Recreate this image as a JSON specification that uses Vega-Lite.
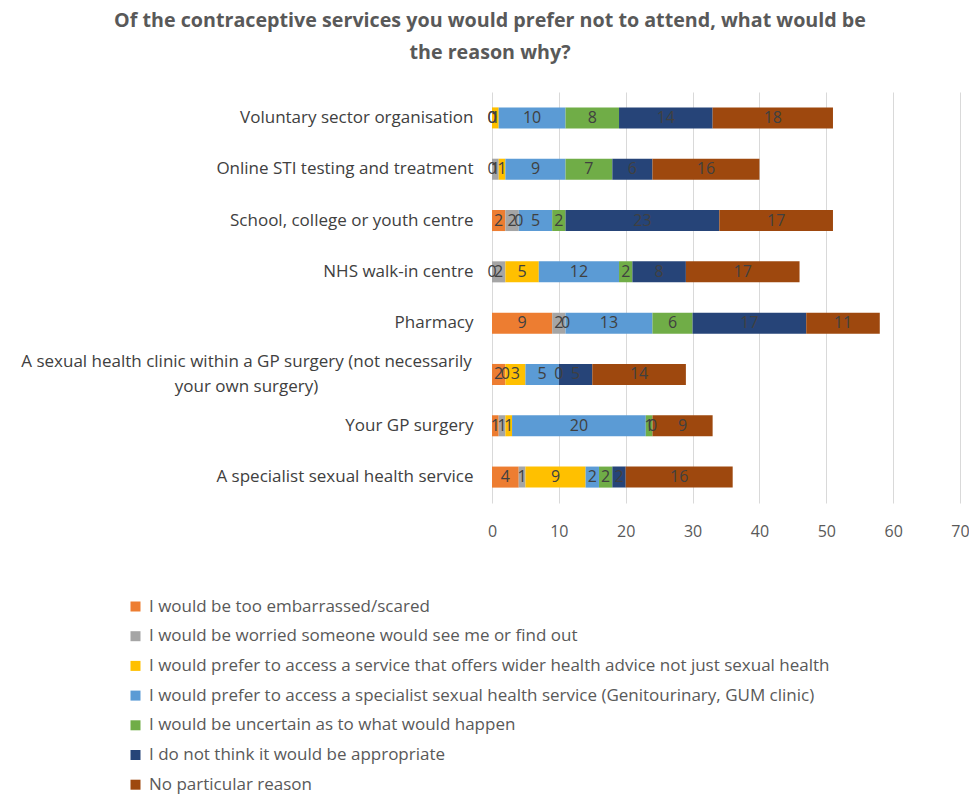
{
  "$schema": "https://vega.github.io/schema/vega-lite/v6.json",
  "autosize": "none",
  "width": 468,
  "height": 411,
  "padding": {"left": 492, "top": 92, "right": 9, "bottom": 291},
  "background": "white",
  "config": {
    "font": "Open Sans",
    "view": {"stroke": null},
    "axis": {"labelFont": "Open Sans", "labelColor": "#595959", "labelFontSize": 16}
  },
  "title": {
    "text": ["Of the contraceptive services you would prefer not to attend, what would be", "the reason why?"],
    "font": "Open Sans",
    "fontSize": 19.7,
    "fontWeight": "bold",
    "color": "#595959",
    "lineHeight": 32,
    "anchor": "middle",
    "dx": -236,
    "offset": 29
  },
  "data": {
    "values": [
      {"service": "Voluntary sector organisation", "reason": "I would be too embarrassed/scared", "k": 1, "n": 0},
      {"service": "Voluntary sector organisation", "reason": "I would be worried someone would see me or find out", "k": 2, "n": 0},
      {"service": "Voluntary sector organisation", "reason": "I would prefer to access a service that offers wider health advice not just sexual health", "k": 3, "n": 1},
      {"service": "Voluntary sector organisation", "reason": "I would prefer to access a specialist sexual health service (Genitourinary, GUM clinic)", "k": 4, "n": 10},
      {"service": "Voluntary sector organisation", "reason": "I would be uncertain as to what would happen", "k": 5, "n": 8},
      {"service": "Voluntary sector organisation", "reason": "I do not think it would be appropriate", "k": 6, "n": 14},
      {"service": "Voluntary sector organisation", "reason": "No particular reason", "k": 7, "n": 18},

      {"service": "Online STI testing and treatment", "reason": "I would be too embarrassed/scared", "k": 1, "n": 0},
      {"service": "Online STI testing and treatment", "reason": "I would be worried someone would see me or find out", "k": 2, "n": 1},
      {"service": "Online STI testing and treatment", "reason": "I would prefer to access a service that offers wider health advice not just sexual health", "k": 3, "n": 1},
      {"service": "Online STI testing and treatment", "reason": "I would prefer to access a specialist sexual health service (Genitourinary, GUM clinic)", "k": 4, "n": 9},
      {"service": "Online STI testing and treatment", "reason": "I would be uncertain as to what would happen", "k": 5, "n": 7},
      {"service": "Online STI testing and treatment", "reason": "I do not think it would be appropriate", "k": 6, "n": 6},
      {"service": "Online STI testing and treatment", "reason": "No particular reason", "k": 7, "n": 16},

      {"service": "School, college or youth centre", "reason": "I would be too embarrassed/scared", "k": 1, "n": 2},
      {"service": "School, college or youth centre", "reason": "I would be worried someone would see me or find out", "k": 2, "n": 2},
      {"service": "School, college or youth centre", "reason": "I would prefer to access a service that offers wider health advice not just sexual health", "k": 3, "n": 0},
      {"service": "School, college or youth centre", "reason": "I would prefer to access a specialist sexual health service (Genitourinary, GUM clinic)", "k": 4, "n": 5},
      {"service": "School, college or youth centre", "reason": "I would be uncertain as to what would happen", "k": 5, "n": 2},
      {"service": "School, college or youth centre", "reason": "I do not think it would be appropriate", "k": 6, "n": 23},
      {"service": "School, college or youth centre", "reason": "No particular reason", "k": 7, "n": 17},

      {"service": "NHS walk-in centre", "reason": "I would be too embarrassed/scared", "k": 1, "n": 0},
      {"service": "NHS walk-in centre", "reason": "I would be worried someone would see me or find out", "k": 2, "n": 2},
      {"service": "NHS walk-in centre", "reason": "I would prefer to access a service that offers wider health advice not just sexual health", "k": 3, "n": 5},
      {"service": "NHS walk-in centre", "reason": "I would prefer to access a specialist sexual health service (Genitourinary, GUM clinic)", "k": 4, "n": 12},
      {"service": "NHS walk-in centre", "reason": "I would be uncertain as to what would happen", "k": 5, "n": 2},
      {"service": "NHS walk-in centre", "reason": "I do not think it would be appropriate", "k": 6, "n": 8},
      {"service": "NHS walk-in centre", "reason": "No particular reason", "k": 7, "n": 17},

      {"service": "Pharmacy", "reason": "I would be too embarrassed/scared", "k": 1, "n": 9},
      {"service": "Pharmacy", "reason": "I would be worried someone would see me or find out", "k": 2, "n": 2},
      {"service": "Pharmacy", "reason": "I would prefer to access a service that offers wider health advice not just sexual health", "k": 3, "n": 0},
      {"service": "Pharmacy", "reason": "I would prefer to access a specialist sexual health service (Genitourinary, GUM clinic)", "k": 4, "n": 13},
      {"service": "Pharmacy", "reason": "I would be uncertain as to what would happen", "k": 5, "n": 6},
      {"service": "Pharmacy", "reason": "I do not think it would be appropriate", "k": 6, "n": 17},
      {"service": "Pharmacy", "reason": "No particular reason", "k": 7, "n": 11},

      {"service": "A sexual health clinic within a GP surgery (not necessarily your own surgery)", "reason": "I would be too embarrassed/scared", "k": 1, "n": 2},
      {"service": "A sexual health clinic within a GP surgery (not necessarily your own surgery)", "reason": "I would be worried someone would see me or find out", "k": 2, "n": 0},
      {"service": "A sexual health clinic within a GP surgery (not necessarily your own surgery)", "reason": "I would prefer to access a service that offers wider health advice not just sexual health", "k": 3, "n": 3},
      {"service": "A sexual health clinic within a GP surgery (not necessarily your own surgery)", "reason": "I would prefer to access a specialist sexual health service (Genitourinary, GUM clinic)", "k": 4, "n": 5},
      {"service": "A sexual health clinic within a GP surgery (not necessarily your own surgery)", "reason": "I would be uncertain as to what would happen", "k": 5, "n": 0},
      {"service": "A sexual health clinic within a GP surgery (not necessarily your own surgery)", "reason": "I do not think it would be appropriate", "k": 6, "n": 5},
      {"service": "A sexual health clinic within a GP surgery (not necessarily your own surgery)", "reason": "No particular reason", "k": 7, "n": 14},

      {"service": "Your GP surgery", "reason": "I would be too embarrassed/scared", "k": 1, "n": 1},
      {"service": "Your GP surgery", "reason": "I would be worried someone would see me or find out", "k": 2, "n": 1},
      {"service": "Your GP surgery", "reason": "I would prefer to access a service that offers wider health advice not just sexual health", "k": 3, "n": 1},
      {"service": "Your GP surgery", "reason": "I would prefer to access a specialist sexual health service (Genitourinary, GUM clinic)", "k": 4, "n": 20},
      {"service": "Your GP surgery", "reason": "I would be uncertain as to what would happen", "k": 5, "n": 1},
      {"service": "Your GP surgery", "reason": "I do not think it would be appropriate", "k": 6, "n": 0},
      {"service": "Your GP surgery", "reason": "No particular reason", "k": 7, "n": 9},

      {"service": "A specialist sexual health service", "reason": "I would be too embarrassed/scared", "k": 1, "n": 4},
      {"service": "A specialist sexual health service", "reason": "I would be worried someone would see me or find out", "k": 2, "n": 1},
      {"service": "A specialist sexual health service", "reason": "I would prefer to access a service that offers wider health advice not just sexual health", "k": 3, "n": 9},
      {"service": "A specialist sexual health service", "reason": "I would prefer to access a specialist sexual health service (Genitourinary, GUM clinic)", "k": 4, "n": 2},
      {"service": "A specialist sexual health service", "reason": "I would be uncertain as to what would happen", "k": 5, "n": 2},
      {"service": "A specialist sexual health service", "reason": "I do not think it would be appropriate", "k": 6, "n": 2},
      {"service": "A specialist sexual health service", "reason": "No particular reason", "k": 7, "n": 16}
    ]
  },
  "encoding": {
    "y": {
      "field": "service",
      "type": "nominal",
      "sort": null,
      "scale": {"paddingInner": 0.59, "paddingOuter": 0.3},
      "axis": {
        "title": null,
        "ticks": false,
        "domain": false,
        "labelLimit": 500,
        "labelFontSize": 17,
        "labelLineHeight": 25,
        "labelColor": "#404040",
        "labelAlign": {"condition": {"test": "length(datum.label) > 60", "value": "center"}, "value": "right"},
        "labelPadding": {"condition": {"test": "length(datum.label) > 60", "value": 246}, "value": 19},
        "labelOffset": {"condition": {"test": "length(datum.label) > 60", "value": -12}, "value": 0},
        "labelExpr": "length(datum.label) > 60 ? ['A sexual health clinic within a GP surgery (not necessarily', 'your own surgery)'] : datum.label"
      }
    },
    "x": {
      "field": "n",
      "type": "quantitative",
      "stack": "zero",
      "scale": {"domain": [0, 70], "nice": false},
      "axis": {
        "title": null,
        "values": [0, 10, 20, 30, 40, 50, 60, 70],
        "domain": false,
        "ticks": false,
        "labelFlush": false,
        "gridColor": "#D9D9D9",
        "gridWidth": 1,
        "labelPadding": 20
      }
    },
    "order": {"field": "k", "type": "quantitative"}
  },
  "layer": [
    {
      "mark": {"type": "bar"},
      "encoding": {
        "color": {
          "field": "reason",
          "type": "nominal",
          "scale": {
            "domain": [
              "I would be too embarrassed/scared",
              "I would be worried someone would see me or find out",
              "I would prefer to access a service that offers wider health advice not just sexual health",
              "I would prefer to access a specialist sexual health service (Genitourinary, GUM clinic)",
              "I would be uncertain as to what would happen",
              "I do not think it would be appropriate",
              "No particular reason"
            ],
            "range": ["#ED7D31", "#A5A5A5", "#FFC000", "#5B9BD5", "#70AD47", "#264478", "#9E480E"]
          },
          "legend": {
            "title": null,
            "orient": "none",
            "direction": "vertical",
            "legendX": -365,
            "legendY": 506,
            "symbolType": "square",
            "symbolSize": 100,
            "symbolStrokeWidth": 0,
            "labelFont": "Open Sans",
            "labelFontSize": 17,
            "labelColor": "#595959",
            "labelLimit": 900,
            "rowPadding": 11.7,
            "labelOffset": 5
          }
        }
      }
    },
    {
      "mark": {"type": "text", "font": "Open Sans", "fontSize": 16, "color": "#404040", "align": "center", "baseline": "middle"},
      "encoding": {
        "x": {"field": "n", "type": "quantitative", "stack": "zero", "bandPosition": 0.5},
        "text": {"field": "n", "type": "quantitative"}
      }
    }
  ]
}
